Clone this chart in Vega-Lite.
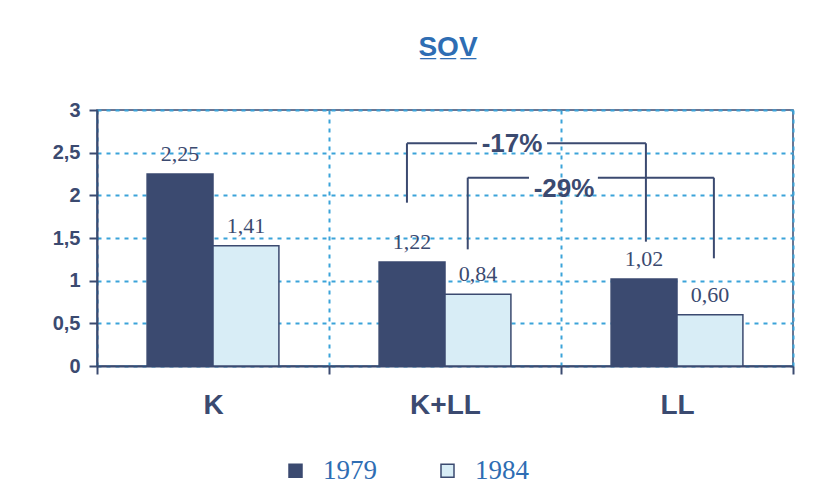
{
  "$schema": "https://vega.github.io/schema/vega-lite/v6.json",
  "autosize": "none",
  "width": 696,
  "height": 256,
  "padding": {"left": 97, "top": 110, "right": 37, "bottom": 118},
  "background": "white",
  "title": {
    "text": "S̲O̲V̲",
    "font": "Liberation Sans",
    "fontSize": 28,
    "fontWeight": "bold",
    "color": "#2e6db3",
    "anchor": "middle",
    "dx": 3,
    "offset": 38
  },
  "datasets": {
    "bars": [
      {"cat": "K", "year": "1979", "value": 2.25, "label": "2,25"},
      {"cat": "K", "year": "1984", "value": 1.41, "label": "1,41"},
      {"cat": "K+LL", "year": "1979", "value": 1.22, "label": "1,22"},
      {"cat": "K+LL", "year": "1984", "value": 0.84, "label": "0,84"},
      {"cat": "LL", "year": "1979", "value": 1.02, "label": "1,02"},
      {"cat": "LL", "year": "1984", "value": 0.60, "label": "0,60"}
    ],
    "brackets": [
      {"x": 1.336, "x2": 1.336, "y": 2.61, "y2": 1.914},
      {"x": 2.366, "x2": 2.366, "y": 2.61, "y2": 1.457},
      {"x": 1.336, "x2": 1.638, "y": 2.61, "y2": 2.61},
      {"x": 1.94, "x2": 2.366, "y": 2.61, "y2": 2.61},
      {"x": 1.598, "x2": 1.598, "y": 2.207, "y2": 1.367},
      {"x": 2.659, "x2": 2.659, "y": 2.207, "y2": 1.262},
      {"x": 1.598, "x2": 1.862, "y": 2.207, "y2": 2.207},
      {"x": 2.159, "x2": 2.659, "y": 2.207, "y2": 2.207}
    ],
    "notes": [
      {"x": 1.789, "y": 2.6, "text": "-17%"},
      {"x": 2.013, "y": 2.08, "text": "-29%"}
    ]
  },
  "layer": [
    {
      "data": {"name": "bars"},
      "encoding": {
        "x": {
          "field": "cat",
          "type": "nominal",
          "sort": ["K", "K+LL", "LL"],
          "scale": {"paddingInner": 0, "paddingOuter": 0},
          "axis": {
            "title": null,
            "labelAngle": 0,
            "tickBand": "extent",
            "grid": true,
            "gridColor": "#3ba3d9",
            "gridDash": [4, 5],
            "gridWidth": 2,
            "domainColor": "#3b4a70",
            "domainWidth": 2,
            "tickColor": "#3b4a70",
            "tickWidth": 2,
            "tickSize": 8,
            "labelFont": "Liberation Sans",
            "labelFontSize": 28,
            "labelFontWeight": "bold",
            "labelColor": "#3b4a70",
            "labelPadding": 17
          }
        },
        "xOffset": {
          "field": "year",
          "type": "nominal",
          "scale": {"paddingOuter": 0.76, "paddingInner": 0}
        },
        "y": {
          "field": "value",
          "type": "quantitative",
          "scale": {"domain": [0, 3], "nice": false},
          "axis": {
            "title": null,
            "values": [0, 0.5, 1, 1.5, 2, 2.5, 3],
            "labelExpr": "replace(format(datum.value, ''), '.', ',')",
            "grid": true,
            "gridColor": "#3ba3d9",
            "gridDash": [4, 5],
            "gridWidth": 2,
            "domainColor": "#3b4a70",
            "domainWidth": 2,
            "tickColor": "#3b4a70",
            "tickWidth": 2,
            "tickSize": 8,
            "labelFont": "Liberation Sans",
            "labelFontSize": 20,
            "labelFontWeight": "bold",
            "labelColor": "#3b4a70",
            "labelPadding": 9
          }
        }
      },
      "layer": [
        {
          "mark": {"type": "bar", "stroke": "#3b4a70", "strokeWidth": 1.5},
          "encoding": {
            "color": {
              "field": "year",
              "type": "nominal",
              "scale": {"domain": ["1979", "1984"], "range": ["#3b4a70", "#d8edf6"]},
              "legend": {
                "title": null,
                "orient": "none",
                "direction": "horizontal",
                "legendX": 185,
                "legendY": 347,
                "symbolType": "square",
                "symbolSize": 169,
                "symbolStrokeColor": "#3b4a70",
                "symbolStrokeWidth": 1.5,
                "labelFont": "Liberation Serif",
                "labelFontSize": 27,
                "labelColor": "#2e6db3",
                "labelOffset": 14,
                "columnPadding": 57,
                "encode": {
                  "symbols": {
                    "update": {
                      "stroke": {"value": "#3b4a70"},
                      "strokeWidth": {"value": 1.5},
                      "opacity": {"value": 1}
                    }
                  }
                }
              }
            }
          }
        },
        {
          "mark": {
            "type": "text",
            "font": "Liberation Serif",
            "fontSize": 22,
            "color": "#3b4a70",
            "baseline": "alphabetic",
            "dy": -13
          },
          "encoding": {"text": {"field": "label"}}
        }
      ]
    },
    {
      "layer": [
        {
          "data": {"name": "brackets"},
          "mark": {"type": "rule", "color": "#3b4a70", "strokeWidth": 2},
          "encoding": {
            "x": {"field": "x", "type": "quantitative", "scale": {"domain": [0, 3], "nice": false}, "axis": null},
            "x2": {"field": "x2"},
            "y": {"field": "y", "type": "quantitative"},
            "y2": {"field": "y2"}
          }
        },
        {
          "data": {"name": "notes"},
          "mark": {
            "type": "text",
            "font": "Liberation Sans",
            "fontSize": 26,
            "fontWeight": "bold",
            "color": "#3b4a70",
            "baseline": "middle"
          },
          "encoding": {
            "x": {"field": "x", "type": "quantitative", "scale": {"domain": [0, 3], "nice": false}, "axis": null},
            "y": {"field": "y", "type": "quantitative"},
            "text": {"field": "text"}
          }
        }
      ]
    }
  ],
  "resolve": {"scale": {"x": "independent"}},
  "config": {
    "view": {"stroke": "#3b4a70", "strokeWidth": 1.5}
  }
}
